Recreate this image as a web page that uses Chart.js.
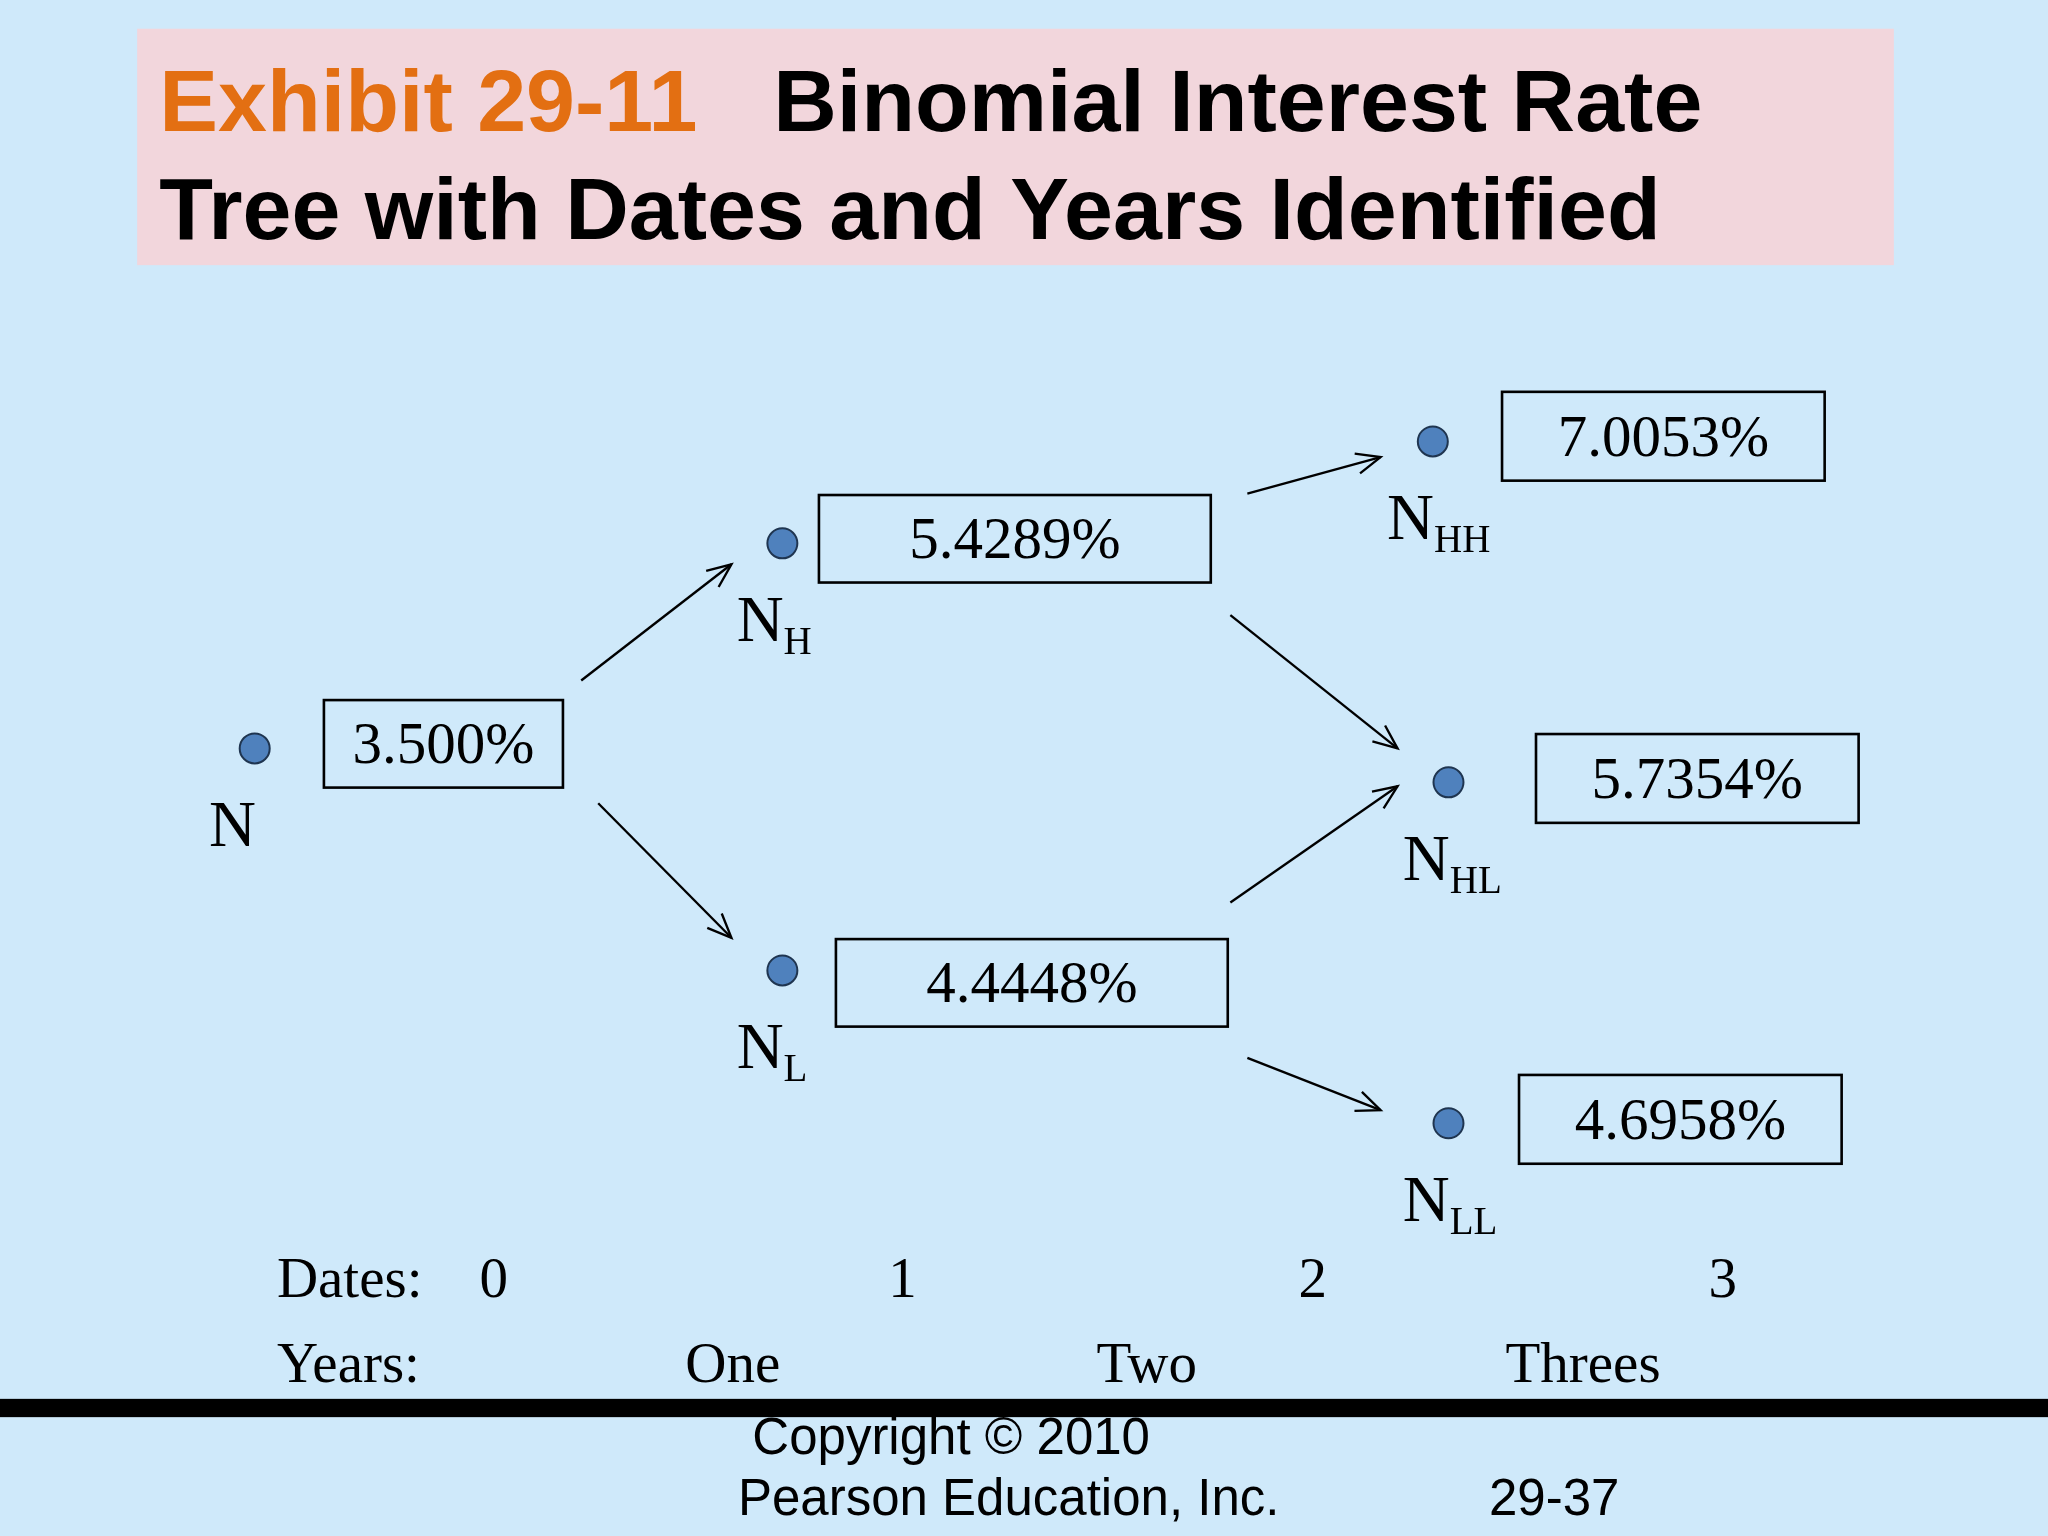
<!DOCTYPE html>
<html><head><meta charset="utf-8">
<script src="https://cdn.jsdelivr.net/npm/chart.js@4/dist/chart.umd.min.js"></script>
<style>html,body{margin:0;padding:0;background:#cfe9fa}#wrap{width:2048px;height:1536px}</style>
</head><body><div id="wrap"><canvas id="tree"></canvas></div>
<script>
// node layout in slide units (reference is 1568 x 1176)
const nodeNames = ['N', 'NH', 'NL', 'NHH', 'NHL', 'NLL'];
const nodeSubs = ['', 'H', 'L', 'HH', 'HL', 'LL'];
const nodeX = [195, 599, 599, 1097, 1109, 1109];
const nodeY = [573, 416, 743, 338, 599, 860];
const rates = ['3.500%', '5.4289%', '4.4448%', '7.0053%', '5.7354%', '4.6958%'];
const boxL = [248, 627, 640, 1150, 1176, 1163];
const boxR = [431, 927, 940, 1397, 1423, 1410];
const boxT = [536, 379, 719, 300, 562, 823];
const boxB = [603, 446, 786, 368, 630, 891];
const arrowFrom = [[445, 521], [458, 615], [955, 378], [942, 471], [942, 691], [955, 810]];
const arrowTo = [[560, 432], [560, 718], [1057, 350], [1070, 573], [1070, 602], [1057, 850]];
const dateLabels = ['0', '1', '2', '3'];
const dateX = [378, 691, 1005, 1319];
const yearLabels = ['One', 'Two', 'Threes'];
const yearX = [561, 878, 1212];

const slidePlugin = {
  id: 'slide',
  beforeDatasetsDraw(chart) {
    const c = chart.ctx, xs = chart.scales.x, ys = chart.scales.y;
    const X = v => xs.getPixelForValue(v), Y = v => ys.getPixelForValue(v);
    const s = chart.width / 1568;
    const f = (px, fam, w) => `${w || ''} ${Math.round(px * s)}px ${fam}`;
    const serif = '"Liberation Serif", "Times New Roman", serif';
    const sans = '"Liberation Sans", Arial, sans-serif';
    c.save();
    // title
    c.fillStyle = '#f2d6dc';
    c.fillRect(X(105), Y(22), X(1450) - X(105), Y(203) - Y(22));
    c.textBaseline = 'alphabetic';
    c.textAlign = 'left';
    c.font = f(67, sans, 'bold');
    c.fillStyle = '#e36f12';
    c.fillText('Exhibit 29-11', X(122), Y(100));
    c.fillStyle = '#000';
    c.fillText('Binomial Interest Rate', X(592), Y(100));
    c.fillText('Tree with Dates and Years Identified', X(122), Y(183));
    // boxes
    c.lineWidth = 2 * s;
    c.strokeStyle = '#000';
    c.font = f(45, serif);
    c.textAlign = 'center';
    c.textBaseline = 'middle';
    rates.forEach((r, i) => {
      c.strokeRect(X(boxL[i]), Y(boxT[i]), X(boxR[i]) - X(boxL[i]), Y(boxB[i]) - Y(boxT[i]));
      c.fillText(r, X((boxL[i] + boxR[i]) / 2), Y((boxT[i] + boxB[i]) / 2 + 3));
    });
    // arrows
    c.lineWidth = 1.8 * s;
    arrowFrom.forEach((a, i) => {
      const b = arrowTo[i];
      const x1 = X(a[0]), y1 = Y(a[1]), x2 = X(b[0]), y2 = Y(b[1]);
      c.beginPath(); c.moveTo(x1, y1); c.lineTo(x2, y2); c.stroke();
      const ang = Math.atan2(y2 - y1, x2 - x1), h = 20 * s;
      c.beginPath();
      c.moveTo(x2 - h * Math.cos(ang - 0.4), y2 - h * Math.sin(ang - 0.4));
      c.lineTo(x2, y2);
      c.lineTo(x2 - h * Math.cos(ang + 0.4), y2 - h * Math.sin(ang + 0.4));
      c.stroke();
    });
    // node labels
    c.textAlign = 'left';
    c.textBaseline = 'alphabetic';
    nodeNames.forEach((n, i) => {
      const lx = nodeX[i] - 35, ly = nodeY[i] + 75;
      c.font = f(50, serif);
      c.fillText('N', X(lx), Y(ly));
      if (nodeSubs[i]) {
        const w = c.measureText('N').width;
        c.font = f(30, serif);
        c.fillText(nodeSubs[i], X(lx) + w, Y(ly + 10));
      }
    });
    // dates / years
    c.font = f(44, serif);
    c.fillText('Dates:', X(212), Y(993));
    c.fillText('Years:', X(212), Y(1058));
    c.textAlign = 'center';
    dateLabels.forEach((d, i) => c.fillText(d, X(dateX[i]), Y(993)));
    yearLabels.forEach((d, i) => c.fillText(d, X(yearX[i]), Y(1058)));
    // footer
    c.fillRect(X(0), Y(1071), X(1568) - X(0), Y(1085) - Y(1071));
    c.textAlign = 'left';
    c.font = f(39, sans);
    c.fillText('Copyright \u00a9 2010', X(576), Y(1113));
    c.fillText('Pearson Education, Inc.', X(565), Y(1160));
    c.fillText('29-37', X(1140), Y(1160));
    c.restore();
  }
};

new Chart(document.getElementById('tree'), {
  type: 'scatter',
  data: {
    labels: nodeNames,
    datasets: [{
      data: nodeX.map((x, i) => ({ x: x, y: nodeY[i] })),
      pointRadius: 15,
      pointBackgroundColor: '#4f81bd',
      pointBorderColor: '#1f3550',
      pointBorderWidth: 2
    }]
  },
  options: {
    responsive: true,
    maintainAspectRatio: false,
    animation: false,
    layout: { padding: 0, autoPadding: false },
    plugins: { legend: { display: false }, tooltip: { enabled: false } },
    scales: {
      x: { type: 'linear', min: 0, max: 1568, display: false },
      y: { type: 'linear', min: 0, max: 1176, reverse: true, display: false }
    }
  },
  plugins: [slidePlugin]
});
</script>
</body></html>
